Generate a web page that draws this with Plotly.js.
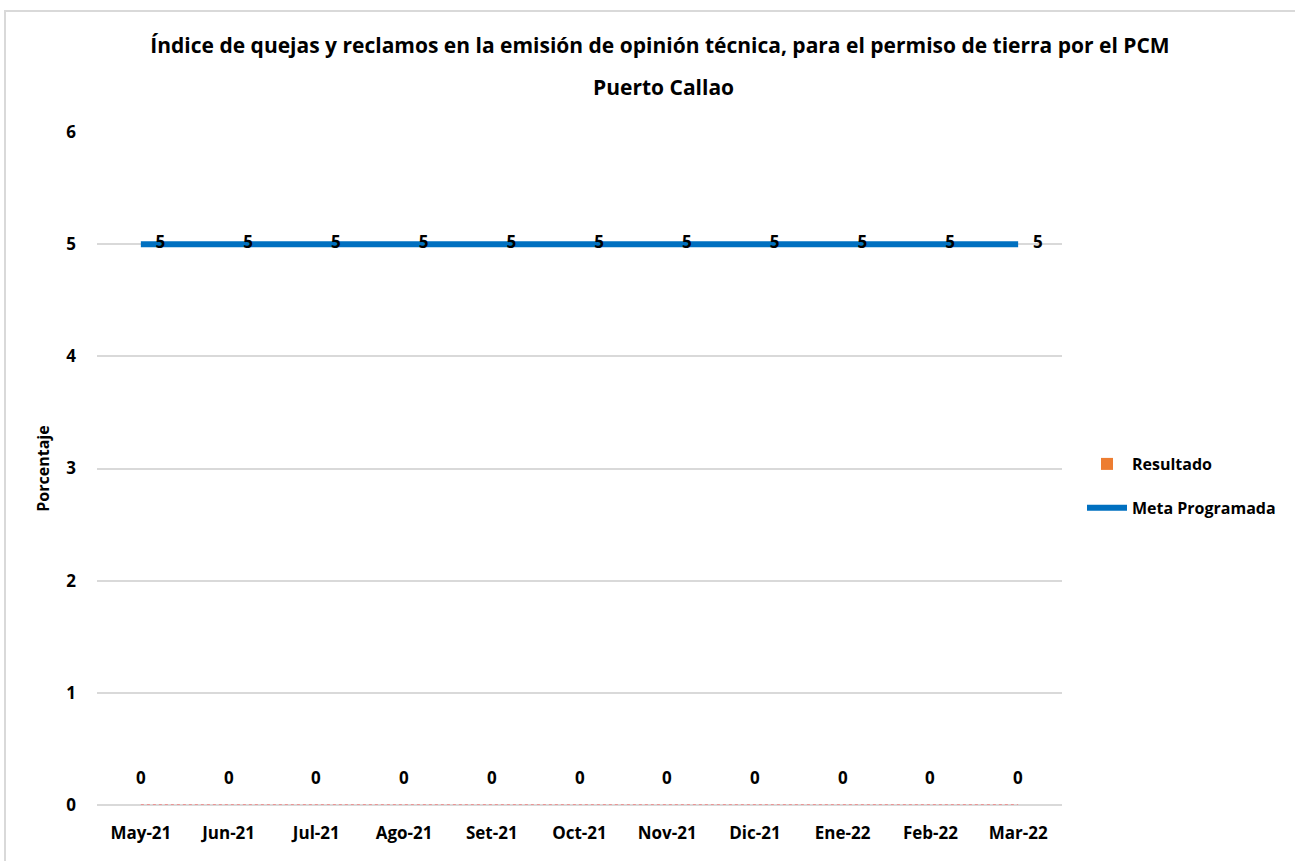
<!DOCTYPE html>
<html><head><meta charset="utf-8">
<script src="https://cdn.plot.ly/plotly-3.0.1.min.js"></script>
<style>
body{margin:0;padding:0;background:#fff;}
#frame{position:absolute;left:4px;top:10px;width:1400px;height:1000px;border:2px solid #d9d9d9;box-sizing:border-box;pointer-events:none;}
</style>
</head><body>
<div id="chart" style="width:1295px;height:861px;"></div>
<div id="frame"></div>
<script>
const categories = ["May-21","Jun-21","Jul-21","Ago-21","Set-21","Oct-21","Nov-21","Dic-21","Ene-22","Feb-22","Mar-22"];
const resultado = [0,0,0,0,0,0,0,0,0,0,0];
const metaProgramada = [5,5,5,5,5,5,5,5,5,5,5];
const titleLine1 = "Índice de quejas y reclamos en la emisión de opinión técnica, para el permiso de tierra por el PCM";
const titleLine2 = "Puerto Callao";

const F = "Open Sans, Noto Sans, sans-serif";
const labelFont = {family:F, size:17, color:"#000", weight:700};
const traces = [
  {type:"bar", name:"Resultado", legendgroup:"a", x:categories, y:resultado, marker:{color:"#ED7D31"},
   hoverinfo:"skip"},
  {type:"scatter", mode:"lines", name:"ref", x:categories, y:resultado, showlegend:false,
   line:{color:"#FF5050", width:1, dash:"dot"}, hoverinfo:"skip"},
  {type:"scatter", mode:"lines+markers+text", name:"Meta Programada", legendgroup:"b", x:categories, y:metaProgramada,
   line:{color:"#0070C0", width:6}, marker:{size:22, color:"rgba(0,0,0,0)"},
   text:metaProgramada.map(String), textposition:"middle right",
   textfont:labelFont, cliponaxis:false}
];
const annotations = categories.map((c,i)=>({
  x:c, y:resultado[i], xref:"x", yref:"y", text:String(resultado[i]), showarrow:false,
  yanchor:"bottom", yshift:14, font:labelFont
}));
annotations.push({text:titleLine2, xref:"paper", yref:"paper", x:(663-97)/965, y:(805-87)/673,
  xanchor:"center", yanchor:"middle", showarrow:false, font:{family:F, size:21, weight:700, color:"#000"}});
const layout = {
  width:1295, height:861,
  margin:{l:97, r:233, t:132, b:56},
  paper_bgcolor:"#fff", plot_bgcolor:"#fff",
  font:{family:F, color:"#000"},
  title:{text:titleLine1, x:660/1295, xanchor:"center", xref:"container", y:1-46/861, yref:"container", yanchor:"middle",
         font:{family:F, size:21, weight:700, color:"#000"}},
  xaxis:{type:"category", range:[-0.5, categories.length-0.5], showgrid:false, zeroline:false, showline:false, ticks:"", automargin:false,
         tickfont:{family:F, size:17, weight:700}, ticklabelstandoff:16},
  yaxis:{range:[0,6], dtick:1, showgrid:true, gridcolor:"#d9d9d9", gridwidth:1.5, automargin:false,
         zeroline:true, zerolinecolor:"#d9d9d9", zerolinewidth:2, showline:false,
         tickfont:{family:F, size:17, weight:700}, ticklabelstandoff:20,
         title:{text:"Porcentaje", font:{family:F, size:16, weight:700}, standoff:12}},
  legend:{xref:"container", yref:"container", x:1082/1295, y:1-486/861, xanchor:"left", yanchor:"middle",
          font:{family:F, size:16, weight:700},
          tracegroupgap:20, itemwidth:40, traceorder:"grouped"},
  annotations:annotations,
  bargap:0.5, showlegend:true
};
Plotly.newPlot("chart", traces, layout, {displayModeBar:false});
</script>
</body></html>
